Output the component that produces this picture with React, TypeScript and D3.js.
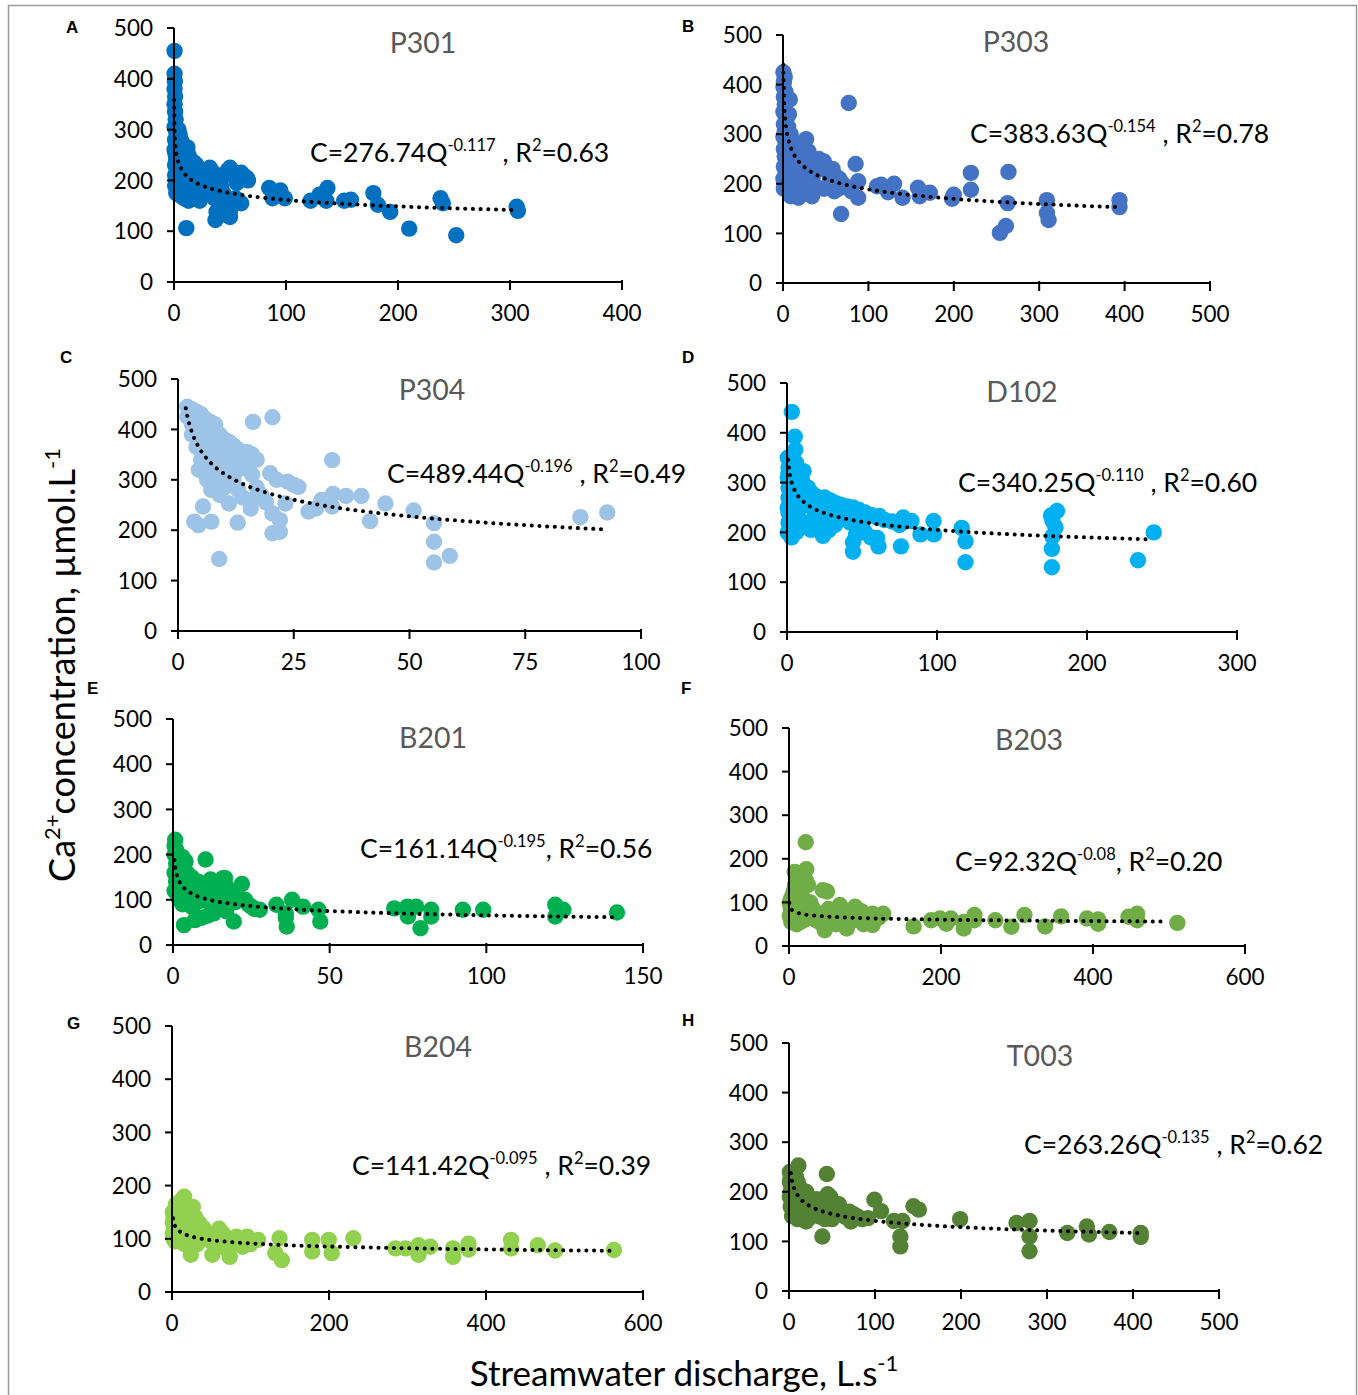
import React from "react";
import * as d3 from "d3";

// ---------- DATA (Q = discharge L/s, C = Ca2+ µmol/L) ----------
const siteNames = ["P301", "P303", "P304", "D102", "B201", "B203", "B204", "T003"];
const panelLetters = ["A", "B", "C", "D", "E", "F", "G", "H"];
const siteColors = ["#0070C0", "#4472C4", "#9DC3E6", "#00B0F0", "#00B050", "#70AD47", "#92D050", "#548235"];
const xMaxes = [400, 500, 100, 300, 150, 600, 600, 500];
const xTickSets = [
  [0, 100, 200, 300, 400],
  [0, 100, 200, 300, 400, 500],
  [0, 25, 50, 75, 100],
  [0, 100, 200, 300],
  [0, 50, 100, 150],
  [0, 200, 400, 600],
  [0, 200, 400, 600],
  [0, 100, 200, 300, 400, 500],
];
const yTicks = [0, 100, 200, 300, 400, 500];
const fitA = [276.74, 383.63, 489.44, 340.25, 161.14, 92.32, 141.42, 263.26];
const fitB = [-0.117, -0.154, -0.196, -0.11, -0.195, -0.08, -0.095, -0.135];
const fitQMin = [0.11, 0.41, 1.68, 0.86, 0.45, 0.42, 1.25, 2.14];
const fitQMax = [305, 393, 92.5, 244, 141, 498, 560, 407];
const coefText = ["276.74", "383.63", "489.44", "340.25", "161.14", "92.32", "141.42", "263.26"];
const expText = ["-0.117", "-0.154", "-0.196", "-0.110", "-0.195", "-0.08", "-0.095", "-0.135"];
const r2Text = ["0.63", "0.78", "0.49", "0.60", "0.56", "0.20", "0.39", "0.62"];
const commaText = [" , R", " , R", " , R", " , R", ", R", ", R", " , R", " , R"];

const pointsA: [number, number][] = [
  [0.5, 455], [0.5, 410], [0.8, 395], [0.5, 380], [1, 365], [0.5, 350], [1, 335], [1.5, 320], [0.5, 305], [2, 295],
  [1, 280], [2, 270], [0.5, 260], [1.5, 250], [2, 240], [1, 230], [2.5, 220], [1, 210], [2, 200], [1, 190], [3, 180], [2, 175],
  [4, 300], [5, 290], [6, 280], [7, 275], [5, 265], [8, 255], [4, 245], [9, 240], [6, 230], [10, 225], [5, 215], [8, 205],
  [4, 195], [7, 185], [10, 175], [6, 170], [9, 165],
  [12, 265], [13, 250], [15, 240], [18, 235], [14, 225], [20, 230], [22, 220], [25, 215], [16, 205], [19, 200], [24, 195],
  [12, 190], [27, 190], [15, 180], [21, 180], [17, 170], [26, 175], [13, 160], [23, 160], [29, 200], [11, 106],
  [32, 225], [35, 215], [38, 210], [40, 200], [34, 195], [42, 190], [45, 210], [48, 220], [50, 225], [52, 215], [55, 210],
  [58, 205], [60, 215], [62, 210], [65, 205], [66, 200], [56, 195], [44, 175], [36, 165], [42, 160], [38, 138], [37, 122],
  [40, 130], [47, 150], [50, 140], [50, 128], [60, 155], [55, 165],
  [85, 185], [88, 165], [95, 180], [99, 165], [122, 160], [130, 172], [137, 185], [136, 160], [152, 160], [158, 162],
  [178, 175], [182, 152], [193, 138], [210, 105], [238, 165], [240, 155], [252, 92], [306, 148], [307, 140],
];
const pointsB: [number, number][] = [
  [0.5, 425], [2, 415], [1, 405], [0.5, 395], [3, 385], [1, 375], [2, 360], [0.5, 345], [4, 335], [1, 320], [2, 305],
  [0.5, 295], [3, 285], [1, 270], [2, 255], [4, 245], [1, 235], [3, 225], [0.5, 210], [2, 200], [1, 190], [5, 195],
  [8, 370], [7, 340], [6, 315], [9, 300], [10, 285], [12, 270], [8, 255], [14, 245], [11, 230], [13, 220], [6, 210],
  [10, 200], [15, 190], [12, 180], [9, 175],
  [18, 280], [22, 270], [27, 290], [25, 255], [30, 265], [20, 240], [28, 235], [33, 230], [24, 220], [35, 215], [16, 205],
  [22, 195], [30, 190], [26, 180], [18, 172], [34, 175], [38, 195],
  [42, 250], [48, 245], [45, 230], [52, 225], [58, 230], [62, 215], [55, 205], [66, 210], [70, 200], [48, 190], [60, 185],
  [72, 195], [65, 190], [77, 363], [68, 139], [85, 240], [88, 205], [88, 172], [80, 185],
  [110, 195], [115, 198], [123, 183], [130, 200], [140, 172], [158, 192], [160, 175], [172, 182], [198, 170], [200, 178],
  [220, 222], [220, 188], [264, 224], [263, 161], [261, 115], [254, 101], [309, 167], [309, 141], [311, 127], [394, 167], [394, 153],
];
const pointsC: [number, number][] = [
  [2, 445], [3, 440], [4, 435], [2, 425], [5, 430], [6, 420], [7, 415], [8, 410], [3, 410], [4, 400], [6, 395], [9, 390],
  [10, 380], [5, 375], [7, 380], [11, 375], [12, 368], [8, 365], [13, 360], [14, 355], [15, 355], [16, 350], [17, 340],
  [10, 350], [12, 345], [9, 340], [14, 335], [3, 390], [4, 365], [6, 350], [5, 340], [7, 330], [11, 330], [13, 320],
  [15, 325], [8, 320], [16, 310], [10, 310], [12, 300], [6, 310], [4.5, 320],
  [16.2, 415], [20.4, 424], [33.3, 339], [8.9, 143], [55.3, 214], [55.3, 177], [55.3, 136], [58.7, 149], [86.9, 226],
  [92.7, 235], [50.9, 239], [44.8, 253], [41.5, 218], [39.6, 268], [36.3, 268], [33.5, 272], [33.3, 247], [28.2, 237],
  [29.8, 243], [26, 286], [23.7, 296], [23.2, 253], [21.3, 300], [19.9, 313], [20.4, 233], [20.4, 194], [22, 197],
  [22, 220], [12.9, 215], [15.7, 243], [11, 253], [4.4, 210], [3.5, 217], [7.2, 217], [5.4, 247], [7.2, 280], [6.3, 300],
  [8, 290], [9, 270], [10, 285], [13, 280], [14, 265], [17, 285], [18, 270], [19, 255], [16, 260], [25, 290], [31, 260],
];
const pointsD: [number, number][] = [
  [0.5, 350], [1, 330], [2, 340], [1, 320], [0.5, 310], [2, 300], [1, 290], [3, 280], [1, 270], [2, 260], [0.5, 250],
  [1, 240], [3, 230], [1, 220], [2, 210], [0.5, 200], [3, 190], [3.2, 442], [5.2, 392], [5.5, 366], [6, 340], [7, 320],
  [8, 300], [11, 323], [10, 305], [12, 290], [9, 275], [6, 260], [8, 245], [5, 230], [7, 215], [10, 210], [6, 200],
  [14, 290], [16, 280], [18, 275], [20, 270], [22, 268], [25, 270], [28, 265], [30, 262], [33, 258], [36, 255], [40, 252],
  [44, 250], [48, 245], [52, 240], [56, 235], [60, 230], [15, 255], [18, 245], [22, 240], [26, 235], [30, 232], [34, 225],
  [38, 230], [42, 220], [46, 215], [50, 210], [20, 225], [24, 215], [16, 205], [14, 220], [28, 205], [32, 215], [24, 193],
  [44, 161], [60, 189], [61, 172], [44, 180], [46, 195], [52, 200], [56, 190], [76, 172], [77.5, 230], [83, 223],
  [61.6, 233], [65, 225], [70, 222], [75, 215], [97.7, 223], [98, 196], [89, 196], [116.5, 209], [119, 182], [119, 140],
  [176.6, 130], [176.6, 167], [177, 192], [177, 223], [180, 243], [176, 234], [179, 210], [234, 144], [244.5, 200],
];
const pointsE: [number, number][] = [
  [0.7, 233], [0.5, 220], [1, 210], [0.5, 200], [1.5, 190], [1, 180], [2, 170], [0.5, 160], [1.5, 150], [1, 140], [2, 130],
  [0.5, 120], [1.5, 110], [2, 100], [3, 195], [4, 185], [3, 170], [4.5, 160], [3, 150], [5, 140], [4, 130], [3, 120],
  [5, 110], [4, 100], [3, 90], [3.5, 44],
  [10.4, 189], [6, 150], [8, 140], [9, 130], [7, 120], [11, 125], [12, 145], [13, 135], [14, 110], [10, 100], [8, 95],
  [6, 85], [12, 90], [15, 100], [16, 148], [17, 130], [18, 120], [16.6, 148], [19, 110], [20, 95], [22, 135], [21, 105],
  [23, 100], [24, 90], [15, 80], [13, 70], [11, 65], [9, 60], [7, 55], [17, 75], [19.4, 52], [25, 85], [26, 80],
  [27.7, 78], [33, 89], [36.3, 41], [36, 70], [36, 60], [38, 100], [41.5, 85], [46.4, 78], [47, 52], [70.6, 81],
  [74.8, 85], [75, 63], [77.6, 85], [79, 37], [82.4, 78], [82.4, 63], [92.5, 78], [99, 78], [122, 89], [122, 63],
  [124.6, 78], [141.7, 72],
];
const pointsF: [number, number][] = [
  [1, 100], [2, 90], [3, 80], [1, 70], [2, 65], [4, 75], [5, 95], [3, 110], [6, 125], [7.4, 170], [10, 160], [8, 140],
  [12, 130], [15, 120], [18, 110], [20, 100], [10, 95], [14, 85], [22, 238], [22.8, 176], [22, 151], [25, 140], [28, 100],
  [30, 90], [32, 80], [25, 70], [20, 60], [15, 55], [10, 50], [35, 60], [38, 75], [40, 55], [44.5, 128], [50, 125],
  [47, 36], [52, 85], [55, 70], [60, 60], [62, 50], [67, 94], [70, 80], [72, 65], [76, 40], [80, 55], [85, 75], [87, 90],
  [90, 60], [95, 80], [98, 50], [100, 70], [110, 74], [110, 48], [118, 65], [124, 74], [5, 60], [8, 55], [3, 55],
  [164, 45], [187, 59], [198.5, 63], [207, 51], [213, 63], [230, 40], [230, 55], [244, 71], [244, 59], [271.5, 59],
  [292.6, 44], [309.8, 71], [337, 45], [358, 68], [392, 63], [406.7, 61], [406.7, 51], [446.7, 67], [458, 74], [458, 59],
  [511, 53],
];
const pointsG: [number, number][] = [
  [1, 150], [2, 140], [1, 130], [3, 120], [1, 110], [2, 100], [4, 95], [5, 165], [6, 150], [8, 160], [10, 170], [12, 165],
  [15.5, 179], [14, 145], [18, 150], [20, 135], [10, 125], [8, 110], [12, 100], [16, 90], [20, 115], [22, 100],
  [26.5, 160], [30, 140], [35, 129], [28, 110], [32, 90], [24, 70], [40, 120], [45, 105], [50, 95], [51.4, 70], [55, 85],
  [60, 119], [65, 110], [68, 95], [70, 80], [73.6, 66], [78, 100], [82, 104], [85, 90], [90, 85], [95.7, 104], [100, 90],
  [109.5, 98],
  [137, 101], [131.6, 73], [140, 60], [178.6, 98], [178.6, 76], [199.7, 98], [203.5, 73], [231, 101], [284.8, 82],
  [297.6, 82], [314, 88], [314, 70], [329, 85], [358, 82], [358, 66], [377.8, 91], [377.8, 80], [432, 98], [432, 82],
  [466, 88], [488, 78], [563, 79],
];
const pointsH: [number, number][] = [
  [1, 240], [2, 230], [1, 220], [3, 210], [2, 200], [1, 190], [3, 180], [2, 170], [3.5, 151], [5, 160], [6, 238],
  [8, 230], [11, 253], [10, 220], [12, 210], [14, 200], [9, 190], [15, 185], [13, 175], [8, 165], [16, 160], [18, 150],
  [10, 145], [20, 200], [22, 190], [25, 180], [28, 175], [24, 165], [30, 160], [26, 150], [20, 140], [32, 185], [35, 170],
  [38, 180], [40, 165], [36, 150], [42, 145], [44, 236], [45, 195], [48, 190], [50, 180], [52, 170], [55, 160], [50, 145],
  [58, 175], [60, 165], [62, 155], [65, 150], [70, 160], [75, 155], [72, 140], [80, 150], [85, 145], [38.8, 110],
  [91.7, 147], [99.3, 184], [107, 161],
  [122, 141], [129.5, 110], [129.5, 90], [132, 141], [144.7, 171], [151, 164], [199, 145], [264.6, 137], [279.7, 141],
  [279.7, 110], [279.7, 80], [323.6, 117], [346.3, 130], [348.8, 114], [372.5, 119], [409, 117], [409, 109],
];
const allPoints = [pointsA, pointsB, pointsC, pointsD, pointsE, pointsF, pointsG, pointsH];

// ---------- LAYOUT ----------
const W = 1358;
const H = 1395;
const layouts = [
  { x0: 174, x1: 622, yTop: 28, yBot: 282, title: [423, 53], eq: [310, 162], letter: [66, 33] },
  { x0: 783, x1: 1210, yTop: 35, yBot: 283, title: [1016, 52], eq: [970, 143], letter: [682, 32] },
  { x0: 178, x1: 641, yTop: 379, yBot: 631, title: [432, 400], eq: [387, 483], letter: [60, 363] },
  { x0: 787, x1: 1237, yTop: 383, yBot: 632, title: [1022, 402], eq: [958, 492], letter: [682, 363] },
  { x0: 173, x1: 643, yTop: 719, yBot: 945, title: [433, 748], eq: [360, 858], letter: [87, 694] },
  { x0: 789, x1: 1245, yTop: 728, yBot: 946, title: [1029, 750], eq: [955, 871], letter: [681, 694] },
  { x0: 172, x1: 643, yTop: 1026, yBot: 1292, title: [438, 1057], eq: [352, 1175], letter: [67, 1029] },
  { x0: 789, x1: 1219, yTop: 1043, yBot: 1291, title: [1040, 1066], eq: [1024, 1154], letter: [682, 1026] },
];

const FONT = "Lato, 'Open Sans', sans-serif";

function Panel({ i }: { i: number }) {
  const L = layouts[i];
  const x = d3.scaleLinear().domain([0, xMaxes[i]]).range([L.x0, L.x1]);
  const y = d3.scaleLinear().domain([0, 500]).range([L.yBot, L.yTop]);
  const qs = d3.range(0, 161).map((k) => fitQMin[i] * Math.pow(fitQMax[i] / fitQMin[i], k / 160));
  const line = d3
    .line<number>()
    .x((q) => x(q))
    .y((q) => y(fitA[i] * Math.pow(q, fitB[i])))
    .curve(d3.curveMonotoneX);
  const pts = allPoints[i];
  return (
    <g>
      {pts.map((p, k) => (
        <circle key={k} cx={x(p[0])} cy={y(p[1])} r={8.2} fill={siteColors[i]} />
      ))}
      <path
        d={line(qs) || ""}
        fill="none"
        stroke="#000"
        strokeWidth={4}
        strokeLinecap="round"
        strokeDasharray="0.1 7.6"
      />
      <line x1={L.x0} x2={L.x0} y1={L.yTop} y2={L.yBot} stroke="#000" strokeWidth={2} />
      <line x1={L.x0 - 7} x2={L.x1} y1={L.yBot} y2={L.yBot} stroke="#000" strokeWidth={2} />
      {yTicks.map((t) => (
        <g key={"y" + t}>
          <line x1={L.x0 - 7} x2={L.x0} y1={y(t)} y2={y(t)} stroke="#000" strokeWidth={2} />
          <text
            x={L.x0 - 21}
            y={y(t)}
            dy="0.36em"
            textAnchor="end"
            fontSize={22.5}
            fontFamily={FONT}
            fill="#000"
          >
            {t}
          </text>
        </g>
      ))}
      {xTickSets[i].map((t) => (
        <g key={"x" + t}>
          <line x1={x(t)} x2={x(t)} y1={L.yBot - 2} y2={L.yBot + 8} stroke="#000" strokeWidth={2} />
          <text
            x={x(t)}
            y={L.yBot + 39}
            textAnchor="middle"
            fontSize={22.5}
            fontFamily={FONT}
            fill="#000"
          >
            {t}
          </text>
        </g>
      ))}
      <text
        x={L.title[0]}
        y={L.title[1]}
        textAnchor="middle"
        fontSize={28.5}
        fontFamily={FONT}
        fill="#595959"
      >
        {siteNames[i]}
      </text>
      <text x={L.eq[0]} y={L.eq[1]} fontSize={26.5} fontFamily={FONT} fill="#000">
        <tspan>{"C=" + coefText[i] + "Q"}</tspan>
        <tspan fontSize={16.5} dy={-11}>
          {expText[i]}
        </tspan>
        <tspan fontSize={26.5} dy={11}>
          {commaText[i]}
        </tspan>
        <tspan fontSize={16.5} dy={-11}>
          2
        </tspan>
        <tspan fontSize={26.5} dy={11}>
          {"=" + r2Text[i]}
        </tspan>
      </text>
      <text
        x={L.letter[0]}
        y={L.letter[1]}
        fontSize={17}
        fontWeight="bold"
        fontFamily="'Liberation Sans', Arial, sans-serif"
        fill="#000"
      >
        {panelLetters[i]}
      </text>
    </g>
  );
}

export default function App() {
  return (
    <div style={{ position: "absolute", left: 0, top: 0 }}>
      <svg width={W} height={H} viewBox={`0 0 ${W} ${H}`} style={{ display: "block", background: "#fff" }}>
        <rect x={0} y={0} width={W} height={H} fill="#fff" />
        <rect x={8.5} y={5.5} width={1348} height={1400} fill="none" stroke="#9a9a9a" strokeWidth={1.5} />
        {siteNames.map((_, i) => (
          <Panel key={i} i={i} />
        ))}
        <text
          transform="translate(75,665) rotate(-90)"
          textAnchor="middle"
          fontSize={36}
          fontFamily={FONT}
          fill="#000"
        >
          <tspan>Ca</tspan>
          <tspan fontSize={22} dy={-15}>
            2+
          </tspan>
          <tspan fontSize={36} dy={15}>
            concentration, µmol.L
          </tspan>
          <tspan fontSize={22} dy={-15}>
            -1
          </tspan>
        </text>
        <text x={684} y={1386} textAnchor="middle" fontSize={35} fontFamily={FONT} fill="#000">
          <tspan>Streamwater discharge, L.s</tspan>
          <tspan fontSize={22} dy={-15}>
            -1
          </tspan>
        </text>
      </svg>
    </div>
  );
}
